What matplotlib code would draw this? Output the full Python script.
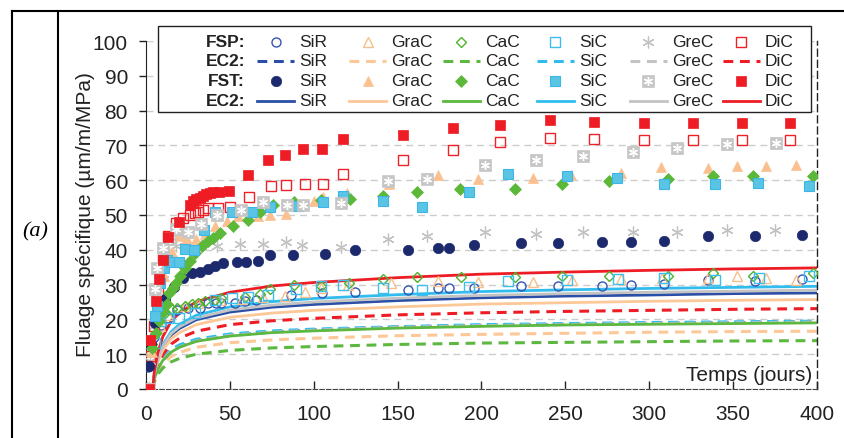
import matplotlib
matplotlib.use("Agg")
import matplotlib.pyplot as plt
from matplotlib.lines import Line2D
from matplotlib.patches import Rectangle

plt.rcParams['font.family'] = ['Liberation Sans', 'DejaVu Sans']

# ---- FSP (open markers) / FST (filled markers) measurements
t_sir_fsp = [1.2, 1.6, 5, 9, 13.4, 18.4, 25.3, 32.2, 37.2, 42, 45, 53, 58.9, 65.8, 86.6, 105, 124.6, 156.4,
             174.3, 180.8, 195.3, 223.6, 245.8, 271.9, 289, 309, 335.3, 363.1, 391]
v_sir_fsp = [6.2, 10.5, 15, 18.5, 20.5, 22.7, 23.3, 23.2, 24.6, 24.6, 24.8, 24.8, 25.2, 25.5, 27.1, 27.6, 27.9, 28.4,
             28.9, 28.9, 29, 29.5, 29.5, 29.7, 30, 30.3, 31.2, 31, 31.6]
t_sir_fst = [1.6, 3.2, 5.5, 8, 11.5, 16.4, 22.3, 27.3, 32.2, 37.2, 41.1, 46, 54, 59.9, 66.8, 73.7, 87.5, 106.9,
             124.6, 156.4, 174.3, 180.8, 195.3, 223.6, 245.8, 271.9, 289, 309, 335.3, 363.1, 391]
v_sir_fst = [6.7, 13, 19, 23, 26, 29.4, 31.8, 33.2, 33.7, 34.6, 35.3, 36.1, 36.5, 36.5, 36.7, 38.5, 38.6, 38.9,
             39.8, 40, 40.5, 40.5, 41.3, 41.9, 41.9, 42.1, 42.2, 42.6, 44, 44, 44.3]

t_grac_fsp = [2.6, 8.5, 13.4, 23.3, 31.2, 44, 57, 70, 82.6, 95, 104.3, 120.2, 146, 173.9, 198, 230.5, 253.8,
              283.3, 307.5, 334.9, 352.2, 369.7, 387.2]
v_grac_fsp = [11, 18, 21.4, 23.8, 24.8, 25.7, 25.9, 26.3, 26.7, 28, 29, 30, 30.5, 31.1, 30.8, 30.8, 31.4,
              31.6, 31.9, 31.9, 32.4, 31.9, 31.4]
t_grac_fst = [2, 3.6, 10.5, 15.4, 19.4, 23.3, 25, 30, 35, 41, 48, 55, 67, 74, 83.5, 100, 105.5, 119.6, 145,
              173.9, 198, 230.5, 253.4, 283.3, 307, 335.3, 352.2, 369.7, 387.2]
v_grac_fst = [1, 10.5, 32.4, 39.5, 44, 42.4, 42.5, 43, 44.5, 46.8, 48.3, 49.7, 49.7, 50, 50.3, 54, 55.2, 56.3, 59,
              61.6, 60.3, 60.6, 61.4, 62.2, 63.7, 63.5, 64, 64, 64.3]

t_cac_fsp = [3.6, 8.5, 11.5, 15.4, 18.4, 23.3, 27.3, 31.2, 35.2, 41, 45, 58.9, 67.8, 73.7, 88.5, 104.3, 121.2,
             141, 161.5, 187.8, 220, 247.8, 275.8, 311, 337.9, 362, 397.5]
v_cac_fsp = [12.9, 21.4, 21.9, 22.9, 23.3, 23.8, 24.3, 24.8, 25.2, 25.7, 26.2, 26.4, 27.4, 28.6, 30, 29.5, 30.5,
             31.6, 32.1, 32.2, 32.2, 32.6, 32.4, 32.4, 33.2, 32.6, 33.3]
t_cac_fst = [3.6, 6, 8, 10, 12.5, 14, 16, 17.8, 20, 23.3, 26.3, 29.2, 33.2, 37.2, 40, 44, 52, 61, 67.8, 75.7,
             88.5, 104.3, 121.6, 141.5, 161.5, 187.4, 219.8, 247.8, 275.8, 311, 337.9, 362, 397.5]
v_cac_fst = [11.9, 16, 19.5, 22, 24.3, 27.6, 29, 30.5, 32.5, 34.8, 36.7, 39, 41, 42.4, 43.5, 44.8, 46.7, 48.6, 51,
             52.9, 53.8, 54.3, 54.7, 55.6, 56.6, 57.5, 57.6, 58.8, 59.9, 60.3, 61.1, 61.1, 61.1]

t_sic_fsp = [5.5, 8.5, 13.4, 19.4, 29.2, 41, 51, 60.9, 72.7, 89.5, 104.3, 117.2, 141.5, 164.5, 192.3, 216,
             250.8, 281.2, 308.7, 338.9, 365.7, 395]
v_sic_fsp = [13.3, 19.5, 20.5, 20.5, 21.9, 25.7, 26.2, 26.5, 27.1, 28.8, 29.5, 29.8, 29, 28.4, 29.3, 31.1,
             31.2, 31.5, 31.9, 31.4, 31.9, 32.6]
t_sic_fst = [5.5, 6.5, 8.5, 10.5, 12.5, 15, 19.4, 23.3, 28.9, 34.8, 41.1, 51.5, 63, 74, 90.5, 105.5, 117.6,
             141.5, 164.5, 192.3, 216, 250.8, 280.6, 308.7, 338.9, 365.1, 395]
v_sic_fst = [21, 23.8, 30.5, 34.8, 37.1, 36.5, 36.4, 40.2, 40, 45.7, 51, 50.9, 50.9, 52.3, 52.6, 53.7, 55.4,
             53.9, 52.2, 56.5, 61.9, 61.3, 60.6, 58.8, 58.8, 59.1, 58.2]

t_grec_fsp = [2.6, 5, 7, 10, 14, 18, 25, 33, 42.5, 56, 70, 83.6, 93, 116, 144, 167.3, 202, 232.5, 260.3,
              290.2, 316.4, 346.2, 375.2]
v_grec_fsp = [8, 18, 26, 33, 39, 41, 41.5, 41, 41, 41.8, 41.8, 42.3, 41.3, 40.7, 43.1, 43.9, 45.1, 44.4, 45.1,
              45.1, 45.1, 45.6, 45.6]
t_grec_fst = [2, 5.5, 6.5, 10.3, 14.3, 17.9, 25, 32.6, 42.5, 56.4, 70, 84, 93.3, 116, 144, 167.5, 202, 232.5,
              260.3, 290.6, 316.4, 346.4, 375.6]
v_grec_fst = [0, 28.6, 34.8, 40.6, 43.1, 46, 45.2, 47.4, 50, 51.4, 53.7, 52.9, 52.9, 53.4, 59.7, 60.3, 64.3, 65.7,
              67, 68, 69.2, 70.4, 70.6]

t_dic_fsp = [2, 2.6, 5, 7, 10, 13.4, 17.8, 22.3, 26.3, 29, 31.2, 34, 37.2, 43, 50, 61.4, 74.5, 83.5, 94.8, 105.5,
             117.6, 153, 183, 211, 241, 267, 297, 326, 355, 384]
v_dic_fsp = [0, 9.5, 18, 28, 37, 44, 47.6, 49, 50, 50.5, 51, 51.5, 51.9, 52, 52.4, 55.3, 58.2, 58.5, 58.9, 59,
             61.9, 65.9, 68.8, 71, 72.1, 71.8, 71.6, 71.6, 71.6, 71.6]
t_dic_fst = [2, 2.6, 6, 7.5, 10, 13.4, 19.8, 26, 28, 30, 32, 34, 36, 38, 40, 43.5, 49.4, 61, 72.7, 82.6, 93.5,
             104.7, 117.6, 153, 183, 211, 241, 267, 297, 326, 355, 384]
v_dic_fst = [0, 14.1, 25.4, 31.6, 37.1, 43.8, 47.9, 53, 54, 54.6, 55, 55.4, 56, 56.2, 56.5, 56.7, 57, 61.4, 65.9,
             67.3, 68.9, 68.9, 71.9, 73.1, 75, 76, 77.3, 76.7, 76.3, 76.4, 76.4, 76.4]

# ---- EC2 model curves (dashed = FSP, solid = FST)
t_ec2 = [4, 5, 7, 10, 15, 20, 30, 50, 75, 100, 150, 200, 250, 300, 350, 400]
ec2_sir_d = [0, 2.9, 5.8, 8.3, 10.8, 12.2, 13.9, 15.4, 16.4, 17.0, 17.8, 18.3, 18.6, 18.9, 19.1, 19.3]
ec2_grac_d = [0, 2.5, 5.0, 7.1, 9.3, 10.5, 12.0, 13.3, 14.1, 14.6, 15.3, 15.7, 16.0, 16.3, 16.5, 16.6]
ec2_cac_d = [0, 2.1, 4.2, 6.0, 7.8, 8.8, 10.0, 11.1, 11.8, 12.2, 12.8, 13.2, 13.4, 13.6, 13.8, 13.9]
ec2_sic_d = [0, 3.0, 6.1, 8.8, 11.4, 12.7, 14.3, 15.8, 16.7, 17.2, 17.9, 18.5, 18.8, 19.1, 19.3, 19.5]
ec2_grec_d = [0, 2.9, 5.8, 8.3, 10.8, 12.1, 13.8, 15.4, 16.3, 16.9, 17.7, 18.2, 18.5, 18.8, 19.0, 19.2]
ec2_dic_d = [0, 3.5, 6.9, 9.9, 12.9, 14.6, 16.6, 18.5, 19.6, 20.3, 21.3, 21.9, 22.3, 22.6, 22.9, 23.1]
ec2_sir_s = [0, 4.1, 8.3, 11.9, 15.5, 17.4, 19.9, 22.1, 23.5, 24.3, 25.4, 26.2, 26.7, 27.0, 27.4, 27.6]
ec2_grac_s = [0, 3.9, 7.7, 11.1, 14.4, 16.2, 18.5, 20.6, 21.8, 22.6, 23.6, 24.4, 24.8, 25.2, 25.5, 25.7]
ec2_cac_s = [0, 2.9, 5.7, 8.2, 10.6, 12.0, 13.7, 15.2, 16.2, 16.7, 17.5, 18.0, 18.4, 18.6, 18.8, 19.0]
ec2_sic_s = [0, 4.4, 8.9, 12.7, 16.5, 18.6, 21.2, 23.6, 25.1, 26.0, 27.1, 28.0, 28.5, 28.9, 29.2, 29.5]
ec2_grec_s = [0, 4.3, 8.5, 12.2, 15.9, 17.9, 20.4, 22.7, 24.1, 25.0, 26.1, 26.9, 27.4, 27.8, 28.1, 28.4]
ec2_dic_s = [0, 5.2, 10.4, 15.0, 19.5, 21.9, 25.1, 27.8, 29.6, 30.6, 32.0, 33.0, 33.6, 34.1, 34.5, 34.8]

materiaux = ['SiR', 'GraC', 'CaC', 'SiC', 'GreC', 'DiC']
row_labels = ['FSP:', 'EC2:', 'FST:', 'EC2:']
x_ticks = [0, 50, 100, 150, 200, 250, 300, 350, 400]
y_ticks = [0, 10, 20, 30, 40, 50, 60, 70, 80, 90, 100]

# couleurs et styles
c_line = {'SiR': '#2b4ea6', 'GraC': '#fcc897', 'CaC': '#5cb840', 'SiC': '#30bdee', 'GreC': '#c3c3c3', 'DiC': '#ee1c25'}
star = (6, 2, 0)

st_fsp = {
    'SiR': dict(marker='o', ms=6.5, mfc='none', mec='#3554b2', mew=1.0),
    'GraC': dict(marker='^', ms=6.5, mfc='none', mec='#f8bf8a', mew=1.0),
    'CaC': dict(marker='D', ms=5.5, mfc='none', mec='#4db22c', mew=1.0),
    'SiC': dict(marker='s', ms=7, mfc='none', mec='#3dbfee', mew=1.0),
    'GreC': dict(marker=star, ms=8.5, mfc='none', mec='#c2c2c2', mew=0.9),
    'DiC': dict(marker='s', ms=7, mfc='none', mec='#ee2126', mew=1.0),
}
st_fst = {
    'SiR': dict(marker='o', ms=7.5, mfc='#1c2a6d', mec='#1c2a6d', mew=0.5),
    'GraC': dict(marker='^', ms=7, mfc='#fbc08f', mec='#fbc08f', mew=0.5),
    'CaC': dict(marker='D', ms=6, mfc='#5cb838', mec='#5cb838', mew=0.5),
    'SiC': dict(marker='s', ms=7.5, mfc='#5ac4e4', mec='#3cb6e6', mew=0.8),
    'GreC': dict(marker='s', ms=9, mfc='#c6c6c6', mec='#c6c6c6', mew=0.5),
    'DiC': dict(marker='s', ms=7.5, mfc='#ee1c24', mec='#ee1c24', mew=0.5),
}
dash_style = dict(ls=(0, (3.2, 2.2)), lw=2.2)
solid_style = dict(ls='-', lw=2.0)

fsp = {'SiR': (t_sir_fsp, v_sir_fsp), 'GraC': (t_grac_fsp, v_grac_fsp), 'CaC': (t_cac_fsp, v_cac_fsp),
       'SiC': (t_sic_fsp, v_sic_fsp), 'GreC': (t_grec_fsp, v_grec_fsp), 'DiC': (t_dic_fsp, v_dic_fsp)}
fst = {'SiR': (t_sir_fst, v_sir_fst), 'GraC': (t_grac_fst, v_grac_fst), 'CaC': (t_cac_fst, v_cac_fst),
       'SiC': (t_sic_fst, v_sic_fst), 'GreC': (t_grec_fst, v_grec_fst), 'DiC': (t_dic_fst, v_dic_fst)}
ec2_d = {'SiR': ec2_sir_d, 'GraC': ec2_grac_d, 'CaC': ec2_cac_d, 'SiC': ec2_sic_d, 'GreC': ec2_grec_d, 'DiC': ec2_dic_d}
ec2_s = {'SiR': ec2_sir_s, 'GraC': ec2_grac_s, 'CaC': ec2_cac_s, 'SiC': ec2_sic_s, 'GreC': ec2_grec_s, 'DiC': ec2_dic_s}

fig = plt.figure(figsize=(8.45, 4.39), dpi=100)
ax = fig.add_axes([146 / 845, 1 - 390 / 439, 671 / 845, 348 / 439])

# courbes EC2
for m in materiaux:
    ax.plot(t_ec2, ec2_d[m], color=c_line[m], zorder=2, **dash_style)
for m in materiaux:
    ax.plot(t_ec2, ec2_s[m], color=c_line[m], zorder=2, **solid_style)

# points de mesure
for m in materiaux:
    ax.plot(*fsp[m], ls='none', zorder=3, **st_fsp[m])
for m in materiaux:
    ax.plot(*fst[m], ls='none', zorder=4, **st_fst[m])
    if m == 'GreC':
        ax.plot(*fst[m], ls='none', marker=star, ms=6.5, mec='white', mew=1.0, zorder=4)

ax.set_xlim(0, 400)
ax.set_ylim(0, 100)
ax.set_xticks(x_ticks)
ax.set_yticks(y_ticks)
ax.tick_params(axis='x', direction='in', length=6, width=1, labelsize=15, pad=11, colors='#222222')
ax.tick_params(axis='y', direction='out', length=5, width=1, labelsize=15, pad=8, colors='#222222')
ax.grid(axis='y', color='#cccccc', ls=(0, (5, 3.5)), lw=1.0, zorder=0)

ax.spines['top'].set_visible(False)
ax.spines['left'].set_color('#222222')
ax.spines['bottom'].set_color('#444444')
ax.spines['bottom'].set_linestyle((0, (4, 2)))
ax.spines['right'].set_color('#222222')
ax.spines['right'].set_linestyle((0, (5, 3)))
ax.spines['right'].set_linewidth(1.0)

ax.text(0.9925, 0.026, 'Temps (jours)', transform=ax.transAxes, ha='right', va='baseline', fontsize=15,
        color='#222222')
fig.text(86 / 845, 1 - 215 / 439, 'Fluage spécifique (µm/m/MPa)', rotation=90, ha='center', va='center',
         fontsize=15, color='#222222')
fig.text(35 / 845, 1 - 232 / 439, '(a)', family='Liberation Serif', style='italic', fontsize=16,
         ha='center', va='center')

# cadre du tableau
fig.add_artist(Line2D([12 / 845, 12 / 845], [0, 1 - 12 / 439], color='black', lw=1.5))
fig.add_artist(Line2D([58 / 845, 58 / 845], [0, 1 - 12 / 439], color='black', lw=1.5))
fig.add_artist(Line2D([12 / 845, 1], [1 - 12 / 439, 1 - 12 / 439], color='black', lw=1.5))


# légende (4 lignes x 6 matériaux)
def ax_x(px):
    return (px - 146) / 671


def ax_y(py):
    return (390 - py) / 348


ax.add_patch(Rectangle((ax_x(158), ax_y(113)), ax_x(811) - ax_x(158), ax_y(27) - ax_y(113),
                       transform=ax.transAxes, fc='white', ec='#222222', lw=1.0, clip_on=False, zorder=6))
col_px = [257, 349, 443, 537, 630, 723]
row_px = [42.5, 62, 82, 101.5]
hlen = 37
for r, lab in enumerate(row_labels):
    ax.text(ax_x(245), ax_y(row_px[r]), lab, transform=ax.transAxes, ha='right', va='center',
            fontsize=12.5, weight='bold', color='#222222', zorder=7)
for c, m in enumerate(materiaux):
    x0, x1 = ax_x(col_px[c]), ax_x(col_px[c] + hlen)
    xm = (x0 + x1) / 2
    kw = dict(transform=ax.transAxes, clip_on=False, zorder=7)
    ax.plot([xm], [ax_y(row_px[0])], ls='none', **st_fsp[m], **kw)
    ax.plot([x0, x1], [ax_y(row_px[1])] * 2, color=c_line[m], **dash_style, **kw)
    ax.plot([xm], [ax_y(row_px[2])], ls='none', **st_fst[m], **kw)
    if m == 'GreC':
        ax.plot([xm], [ax_y(row_px[2])], ls='none', marker=star, ms=6.5, mec='white', mew=1.0, **kw)
    ax.plot([x0, x1], [ax_y(row_px[3])] * 2, color=c_line[m], **solid_style, **kw)
    for r in range(4):
        ax.text(ax_x(col_px[c] + hlen + 5), ax_y(row_px[r]), m, transform=ax.transAxes, ha='left',
                va='center', fontsize=12.5, color='#222222', zorder=7)

fig.savefig('out.png', dpi=100)
